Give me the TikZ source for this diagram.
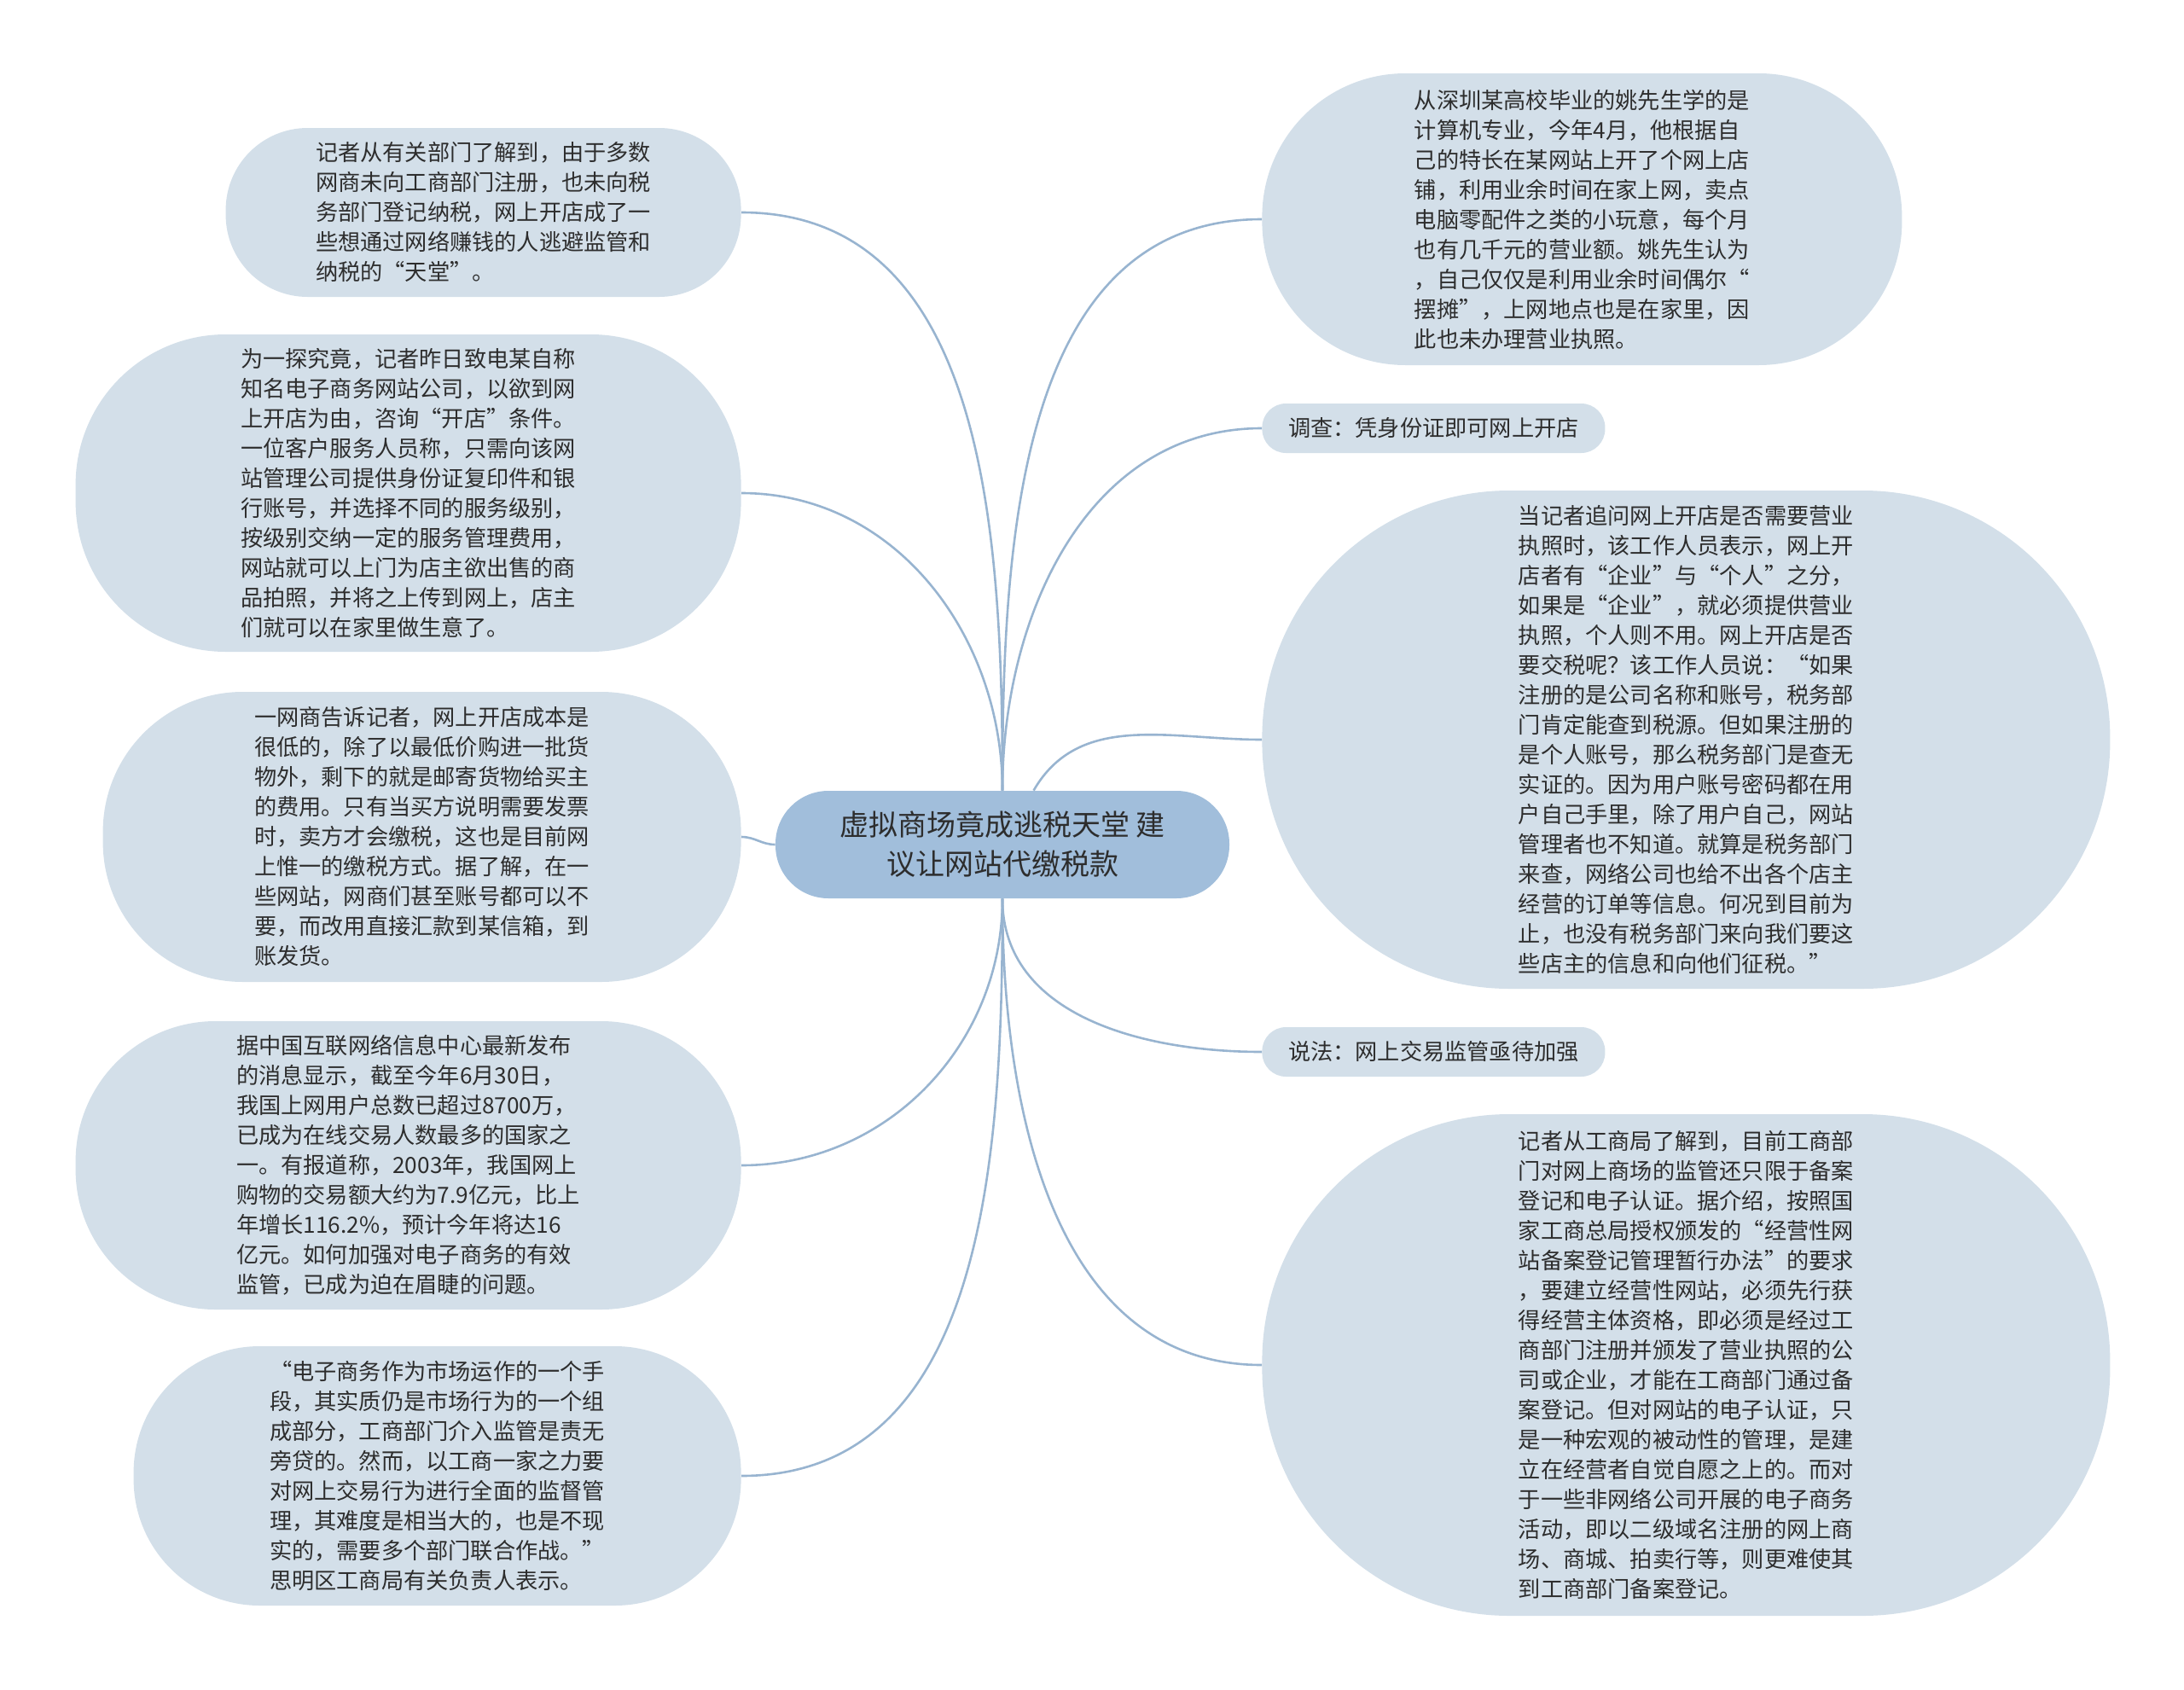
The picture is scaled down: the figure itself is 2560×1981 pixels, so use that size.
\documentclass[tikz,border=0pt]{standalone}
\usepackage{fontspec}
\setmainfont{Noto Sans CJK SC}
\usetikzlibrary{positioning}
\definecolor{leaffill}{RGB}{211,223,233}
\definecolor{rootfill}{RGB}{161,190,219}
\definecolor{linkcol}{RGB}{152,180,208}
\definecolor{txtcol}{RGB}{45,45,45}
\tikzset{
    leaf/.style={fill=leaffill, text=txtcol, align=left, inner sep=0pt,
        font=\fontsize{13.1pt}{17.5pt}\selectfont}, % grey-blue topic boxes
    root/.style={fill=rootfill, text=txtcol, align=center, inner sep=0pt,
        font=\fontsize{17pt}{23pt}\selectfont}, % central topic
    link/.style={draw=linkcol, line width=1.3pt}, % branch lines
}

\begin{document}
\begin{tikzpicture}
    [x=0.5pt, y=-0.5pt, every edge/.style={link}]
    \useasboundingbox (0,0) rectangle (2560,1981);

    % Mitte
    \node[root, minimum width=266pt, minimum height=63pt, rounded corners=31pt] (ctr) at (1175,990)
        {虚拟商场竟成逃税天堂 建\\议让网站代缴税款};

    % links
    \node[leaf, anchor=east, minimum width=302pt, minimum height=99pt, rounded corners=48pt] (l1) at (869,249)
        {记者从有关部门了解到，由于多数\\网商未向工商部门注册，也未向税\\务部门登记纳税，网上开店成了一\\些想通过网络赚钱的人逃避监管和\\纳税的“天堂”。};
    \node[leaf, anchor=east, minimum width=390pt, minimum height=186pt, rounded corners=88pt] (l2) at (869,578)
        {为一探究竟，记者昨日致电某自称\\知名电子商务网站公司，以欲到网\\上开店为由，咨询“开店”条件。\\一位客户服务人员称，只需向该网\\站管理公司提供身份证复印件和银\\行账号，并选择不同的服务级别，\\按级别交纳一定的服务管理费用，\\网站就可以上门为店主欲出售的商\\品拍照，并将之上传到网上，店主\\们就可以在家里做生意了。};
    \node[leaf, anchor=east, minimum width=374pt, minimum height=170pt, rounded corners=82pt] (l3) at (869,981)
        {一网商告诉记者，网上开店成本是\\很低的，除了以最低价购进一批货\\物外，剩下的就是邮寄货物给买主\\的费用。只有当买方说明需要发票\\时，卖方才会缴税，这也是目前网\\上惟一的缴税方式。据了解，在一\\些网站，网商们甚至账号都可以不\\要，而改用直接汇款到某信箱，到\\账发货。};
    \node[leaf, anchor=east, minimum width=390pt, minimum height=169pt, rounded corners=82pt] (l4) at (869,1366)
        {据中国互联网络信息中心最新发布\\的消息显示，截至今年6月30日，\\我国上网用户总数已超过8700万，\\已成为在线交易人数最多的国家之\\一。有报道称，2003年，我国网上\\购物的交易额大约为7.9亿元，比上\\年增长116.2\%，预计今年将达16\\亿元。如何加强对电子商务的有效\\监管，已成为迫在眉睫的问题。};
    \node[leaf, anchor=east, minimum width=356pt, minimum height=152pt, rounded corners=74pt] (l5) at (869,1730)
        {“电子商务作为市场运作的一个手\\段，其实质仍是市场行为的一个组\\成部分，工商部门介入监管是责无\\旁贷的。然而，以工商一家之力要\\对网上交易行为进行全面的监督管\\理，其难度是相当大的，也是不现\\实的，需要多个部门联合作战。”\\思明区工商局有关负责人表示。};

    % rechts
    \node[leaf, anchor=west, minimum width=375pt, minimum height=171pt, rounded corners=84pt] (r1) at (1479,257)
        {从深圳某高校毕业的姚先生学的是\\计算机专业，今年4月，他根据自\\己的特长在某网站上开了个网上店\\铺，利用业余时间在家上网，卖点\\电脑零配件之类的小玩意，每个月\\也有几千元的营业额。姚先生认为\\，自己仅仅是利用业余时间偶尔“\\摆摊”，上网地点也是在家里，因\\此也未办理营业执照。};
    \node[leaf, anchor=west, minimum width=201pt, minimum height=29pt, rounded corners=14pt] (r2) at (1479,502)
        {调查：凭身份证即可网上开店};
    \node[leaf, anchor=west, minimum width=497pt, minimum height=292pt, rounded corners=145pt] (r3) at (1479,867)
        {当记者追问网上开店是否需要营业\\执照时，该工作人员表示，网上开\\店者有“企业”与“个人”之分，\\如果是“企业”，就必须提供营业\\执照，个人则不用。网上开店是否\\要交税呢？该工作人员说：“如果\\注册的是公司名称和账号，税务部\\门肯定能查到税源。但如果注册的\\是个人账号，那么税务部门是查无\\实证的。因为用户账号密码都在用\\户自己手里，除了用户自己，网站\\管理者也不知道。就算是税务部门\\来查，网络公司也给不出各个店主\\经营的订单等信息。何况到目前为\\止，也没有税务部门来向我们要这\\些店主的信息和向他们征税。”};
    \node[leaf, anchor=west, minimum width=201pt, minimum height=29pt, rounded corners=14pt] (r4) at (1479,1233)
        {说法：网上交易监管亟待加强};
    \node[leaf, anchor=west, minimum width=497pt, minimum height=294pt, rounded corners=145pt] (r5) at (1479,1600)
        {记者从工商局了解到，目前工商部\\门对网上商场的监管还只限于备案\\登记和电子认证。据介绍，按照国\\家工商总局授权颁发的“经营性网\\站备案登记管理暂行办法”的要求\\，要建立经营性网站，必须先行获\\得经营主体资格，即必须是经过工\\商部门注册并颁发了营业执照的公\\司或企业，才能在工商部门通过备\\案登记。但对网站的电子认证，只\\是一种宏观的被动性的管理，是建\\立在经营者自觉自愿之上的。而对\\于一些非网络公司开展的电子商务\\活动，即以二级域名注册的网上商\\场、商城、拍卖行等，则更难使其\\到工商部门备案登记。};

    % Verbindungen
    \path
        (ctr) edge[out=90, in=0] (l1.east)
              edge[out=90, in=0] (l2.east)
              edge[out=180, in=0] (l3.east)
              edge[out=-90, in=0] (l4.east)
              edge[out=-90, in=0] (l5.east)
              edge[out=90, in=180] (r1.west)
              edge[out=90, in=180] (r2.west)
              edge[out=60, in=180] (r3.west)
              edge[out=-90, in=180] (r4.west)
              edge[out=-90, in=180] (r5.west);
\end{tikzpicture}
\end{document}
